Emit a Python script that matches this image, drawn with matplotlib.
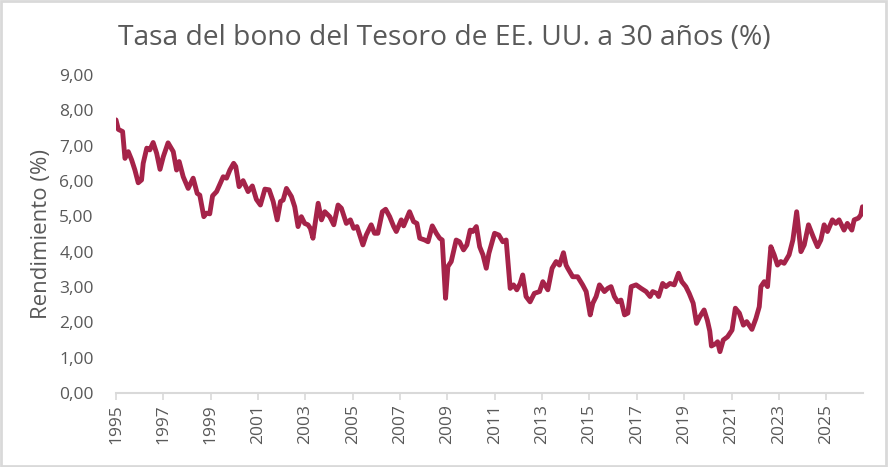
import matplotlib
matplotlib.use("Agg")
import matplotlib.pyplot as plt
from matplotlib.patches import Rectangle

years = [
    1995.0, 1995.1, 1995.28, 1995.38, 1995.52, 1995.66, 1995.8, 1995.94,
    1996.08, 1996.15, 1996.3, 1996.43, 1996.57, 1996.72, 1996.86,
    1997.0, 1997.2, 1997.42, 1997.56, 1997.67, 1997.84,
    1998.05, 1998.26, 1998.43, 1998.54, 1998.71, 1998.82, 1998.96,
    1999.08, 1999.25, 1999.53, 1999.67, 1999.81, 1999.97,
    2000.06, 2000.2, 2000.37, 2000.58, 2000.76, 2000.93,
    2001.1, 2001.29, 2001.47, 2001.64, 2001.81, 2001.95,
    2002.06, 2002.2, 2002.41, 2002.55, 2002.69, 2002.83, 2002.97,
    2003.11, 2003.21, 2003.32, 2003.54, 2003.68, 2003.82,
    2004.03, 2004.2, 2004.38, 2004.52, 2004.73, 2004.9,
    2005.04, 2005.18, 2005.43, 2005.57, 2005.78, 2005.92,
    2006.06, 2006.25, 2006.39, 2006.56, 2006.73, 2006.84,
    2007.05, 2007.15, 2007.4, 2007.57, 2007.71, 2007.83,
    2008.04, 2008.18, 2008.36, 2008.53, 2008.67, 2008.78, 2008.92,
    2009.02, 2009.16, 2009.37, 2009.51, 2009.68, 2009.82, 2009.96,
    2010.07, 2010.22, 2010.36, 2010.5, 2010.64, 2010.75, 2010.99,
    2011.17, 2011.34, 2011.48, 2011.65, 2011.79, 2011.93,
    2012.07, 2012.18, 2012.32, 2012.49, 2012.67, 2012.89,
    2013.03, 2013.24, 2013.42, 2013.59, 2013.73, 2013.9,
    2014.01, 2014.08, 2014.29, 2014.5, 2014.71, 2014.86,
    2015.03, 2015.14, 2015.28, 2015.42, 2015.63, 2015.77, 2015.91,
    2016.05, 2016.19, 2016.33, 2016.48, 2016.62, 2016.76, 2016.97,
    2017.18, 2017.39, 2017.56, 2017.67, 2017.84, 2017.92,
    2018.09, 2018.23, 2018.4, 2018.58, 2018.76, 2018.9,
    2019.07, 2019.21, 2019.38, 2019.52, 2019.66, 2019.84, 2019.98,
    2020.08, 2020.15, 2020.34, 2020.41, 2020.51, 2020.65, 2020.83,
    2021.02, 2021.16, 2021.33, 2021.5, 2021.64, 2021.86,
    2022.03, 2022.17, 2022.24, 2022.38, 2022.52, 2022.66, 2022.8, 2022.94,
    2023.08, 2023.22, 2023.43, 2023.59, 2023.75, 2023.93,
    2024.07, 2024.25, 2024.45, 2024.63, 2024.77, 2024.91,
    2025.05, 2025.26, 2025.4, 2025.54, 2025.75, 2025.89,
    2026.08, 2026.18, 2026.36, 2026.46, 2026.53,
]
yields = [
    7.73, 7.46, 7.40, 6.64, 6.83, 6.60, 6.31, 5.95,
    6.03, 6.50, 6.93, 6.88, 7.09, 6.78, 6.33,
    6.69, 7.08, 6.83, 6.31, 6.55, 6.12,
    5.79, 6.08, 5.65, 5.60, 4.99, 5.09, 5.07,
    5.58, 5.70, 6.12, 6.08, 6.31, 6.50,
    6.41, 5.84, 6.01, 5.70, 5.86, 5.48,
    5.32, 5.77, 5.75, 5.42, 4.90, 5.42,
    5.46, 5.79, 5.56, 5.27, 4.71, 4.99, 4.80,
    4.76, 4.66, 4.38, 5.37, 4.90, 5.13,
    4.99, 4.76, 5.32, 5.23, 4.80, 4.90,
    4.66, 4.71, 4.19, 4.47, 4.76, 4.52,
    4.52, 5.13, 5.20, 4.99, 4.71, 4.57,
    4.90, 4.73, 5.13, 4.85, 4.80, 4.38,
    4.33, 4.28, 4.73, 4.52, 4.38, 4.33, 2.68,
    3.58, 3.72, 4.33, 4.28, 4.05, 4.19, 4.61,
    4.57, 4.71, 4.14, 3.91, 3.53, 3.95, 4.52,
    4.47, 4.28, 4.33, 2.96, 3.06, 2.92,
    3.10, 3.34, 2.73, 2.58, 2.82, 2.87,
    3.15, 2.92, 3.53, 3.72, 3.62, 3.97,
    3.62, 3.53, 3.29, 3.29, 3.06, 2.87,
    2.21, 2.54, 2.73, 3.06, 2.87, 2.96, 3.01,
    2.73, 2.58, 2.63, 2.21, 2.26, 3.01, 3.06,
    2.96, 2.87, 2.73, 2.87, 2.82, 2.73,
    3.10, 3.01, 3.10, 3.06, 3.39, 3.15,
    3.01, 2.82, 2.54, 1.97, 2.16, 2.35, 2.05,
    1.75, 1.33, 1.40, 1.45, 1.17, 1.50, 1.59,
    1.78, 2.40, 2.26, 1.92, 2.02, 1.80,
    2.11, 2.44, 3.01, 3.15, 3.01, 4.14, 3.91, 3.62,
    3.72, 3.67, 3.91, 4.33, 5.13, 4.00,
    4.19, 4.76, 4.42, 4.14, 4.33, 4.76,
    4.57, 4.90, 4.80, 4.90, 4.61, 4.80,
    4.61, 4.90, 4.95, 5.04, 5.27,
]

x_tick_years = list(range(1995, 2026, 2))
x_tick_labels = [str(y) for y in x_tick_years]
y_ticks = [0, 1, 2, 3, 4, 5, 6, 7, 8, 9]
y_tick_labels = [f"{v:.2f}".replace(".", ",") for v in y_ticks]

title = "Tasa del bono del Tesoro de EE. UU. a 30 años (%)"
y_label = "Rendimiento (%)"

plt.rcParams["font.family"] = ["Open Sans", "DejaVu Sans"]
text_color = "#595959"
line_color = "#A52349"
axis_color = "#D9D9D9"

fig = plt.figure(figsize=(8.88, 4.67), dpi=100)
ax = fig.add_axes([0.1306, 0.1585, 0.8412, 0.6809])

ax.plot(years, yields, color=line_color, linewidth=3.5, solid_joinstyle="round",
        solid_capstyle="round")

ax.set_xlim(1995.0, 2026.55)
ax.set_ylim(0, 9)
ax.set_xticks(x_tick_years)
ax.set_xticklabels(x_tick_labels, rotation=90, va="top", ha="center")
ax.set_yticks(y_ticks)
ax.set_yticklabels(y_tick_labels)

for side in ["top", "right", "left"]:
    ax.spines[side].set_visible(False)
ax.spines["bottom"].set_color(axis_color)
ax.spines["bottom"].set_linewidth(1.5)

ax.tick_params(axis="x", colors=axis_color, length=5, width=1.2, pad=3,
               labelcolor=text_color, labelsize=12.5)
ax.tick_params(axis="y", length=0, pad=16, labelcolor=text_color, labelsize=12.5)

ax.set_ylabel(y_label, color=text_color, fontsize=16, labelpad=5.5)
fig.text(0.5, 0.918, title, ha="center", va="center", color=text_color, fontsize=20.3)

fig.patches.append(Rectangle((0.0015, 0.002), 0.996, 0.995, transform=fig.transFigure,
                             fill=False, edgecolor=axis_color, linewidth=2))

fig.savefig("out.png", dpi=100, facecolor="white")
